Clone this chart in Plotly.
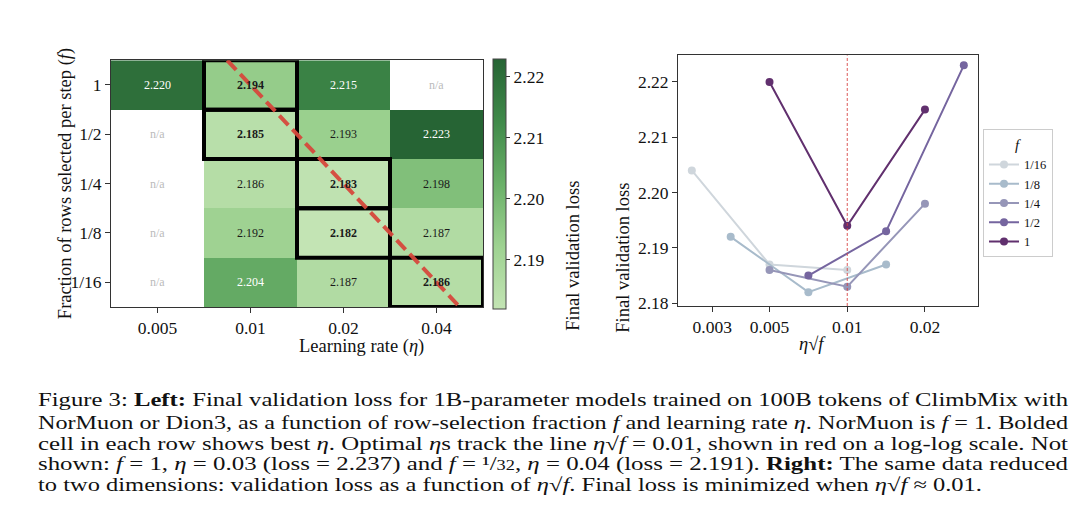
import math
import json
import plotly.graph_objects as go

# ---------------- data ----------------
lrs = [0.005, 0.01, 0.02, 0.04]
lr_labels = ["0.005", "0.01", "0.02", "0.04"]
fracs = [1, 1/2, 1/4, 1/8, 1/16]
frac_labels = ["1", "1/2", "1/4", "1/8", "1/16"]
loss = [
    [2.220, 2.194, 2.215, None],
    [None, 2.185, 2.193, 2.223],
    [None, 2.186, 2.183, 2.198],
    [None, 2.192, 2.182, 2.187],
    [None, 2.204, 2.187, 2.186],
]
target = 0.01  # eta * sqrt(f)
right_xticks = [0.003, 0.005, 0.01, 0.02]
right_xtick_labels = ["0.003", "0.005", "0.01", "0.02"]
right_yticks = [2.18, 2.19, 2.20, 2.21, 2.22]
cbar_ticks = [2.19, 2.20, 2.21, 2.22]
series_colors = {
    "1/16": "#cfd6dc",
    "1/8": "#a8bbcb",
    "1/4": "#9696b8",
    "1/2": "#75659f",
    "1": "#61306e",
}
caption_lines = [
    "Figure 3: <b>Left:</b> Final validation loss for 1B-parameter models trained on 100B tokens of ClimbMix with",
    "NorMuon or Dion3, as a function of row-selection fraction <i>f</i> and learning rate <i>η</i>. NorMuon is <i>f</i> = 1. Bolded",
    "cell in each row shows best <i>η</i>. Optimal <i>η</i>s track the line <i>η</i>√<i>f</i> = 0.01, shown in red on a log-log scale. Not",
    "shown: <i>f</i> = 1, <i>η</i> = 0.03 (loss = 2.237) and <i>f</i> = ¹/<span style='font-size:14px'>32</span>, <i>η</i> = 0.04 (loss = 2.191). <b>Right:</b> The same data reduced",
    "to two dimensions: validation loss as a function of <i>η</i>√<i>f</i>. Final loss is minimized when <i>η</i>√<i>f</i> ≈ 0.01.",
]

# ---------------- layout helpers ----------------
W, H = 1080, 528
FONT = "Liberation Serif, Times New Roman, serif"
def px(x):
    return x / W
def py(y):
    return 1 - y / H

vals = [v for row in loss for v in row if v is not None]
zmin, zmax = min(vals), max(vals)

greens = [
    [0.0, "rgb(195,228,180)"],
    [0.25, "rgb(158,210,145)"],
    [0.5, "rgb(106,176,104)"],
    [0.75, "rgb(64,138,74)"],
    [1.0, "rgb(38,100,52)"],
]

fig = go.Figure()

fig.add_trace(go.Heatmap(
    z=loss, x=list(range(len(lrs))), y=list(range(len(fracs))),
    zmin=zmin, zmax=zmax, colorscale=greens, hoverinfo="skip",
    xaxis="x", yaxis="y",
    colorbar=dict(
        x=px(485), xanchor="left", xpad=0, y=py(178), yanchor="middle", ypad=0,
        thickness=13, lenmode="pixels", len=250,
        outlinewidth=1, outlinecolor="#444",
        ticks="outside", ticklen=4, tickcolor="#333",
        tickvals=cbar_ticks, ticktext=[f"{t:.2f}" for t in cbar_ticks],
        tickfont=dict(family=FONT, size=17.5, color="#111"),
    ),
))

annotations = []
shapes = []

# cell texts and best-cell boxes
for r, row in enumerate(loss):
    present = [v for v in row if v is not None]
    best = min(present)
    for c, v in enumerate(row):
        if v is None:
            annotations.append(dict(x=c, y=r, xref="x", yref="y", text="n/a", showarrow=False,
                                    font=dict(family=FONT, size=12, color="#bbbbbb")))
            continue
        t = (v - zmin) / (zmax - zmin)
        col = "white" if t > 0.5 else "#1a1a1a"
        txt = f"{v:.3f}"
        if v == best:
            txt = f"<b>{txt}</b>"
            shapes.append(dict(type="rect", xref="x", yref="y", x0=c - 0.5, x1=c + 0.5,
                               y0=r - 0.5, y1=r + 0.5, line=dict(color="black", width=4),
                               layer="above"))
        annotations.append(dict(x=c, y=r, xref="x", yref="y", text=txt, showarrow=False,
                                font=dict(family=FONT, size=12, color=col)))

# red line eta*sqrt(f) = target in index space (log2 steps)
def col_index(eta):
    return math.log2(eta / lrs[0])
def lr_on_line(row_idx):
    f = 2 ** (-row_idx)
    return target / math.sqrt(f)
r0, r1 = -0.5, len(fracs) - 0.5
shapes.append(dict(type="line", xref="x", yref="y",
                   x0=col_index(lr_on_line(r0)), y0=r0,
                   x1=col_index(lr_on_line(r1)), y1=r1,
                   line=dict(color="rgba(214,72,60,0.95)", width=4, dash="13px,6px"),
                   layer="above"))

# right panel
for lab, f, row in reversed(list(zip(frac_labels, fracs, loss))):
    xs = [lr * math.sqrt(f) for lr, v in zip(lrs, row) if v is not None]
    ys = [v for v in row if v is not None]
    c = series_colors[lab]
    fig.add_trace(go.Scatter(
        x=xs, y=ys, mode="lines+markers", name=lab, xaxis="x2", yaxis="y2",
        line=dict(color=c, width=2), marker=dict(color=c, size=8),
        hoverinfo="skip",
    ))

shapes.append(dict(type="line", xref="x2", yref="y2 domain", x0=target, x1=target, y0=0, y1=1,
                   line=dict(color="rgba(214,60,60,0.85)", width=1, dash="3px,2px"), layer="above"))

# axis titles
TF = dict(family=FONT, size=18.5, color="#111")
annotations += [
    dict(x=px(289), y=py(343), xref="paper", yref="paper", text="Learning rate (<i>η</i>)",
         showarrow=False, font=TF),
    dict(x=px(45), y=py(178), xref="paper", yref="paper",
         text="Fraction of rows selected per step (<i>f</i>)", textangle=-90,
         showarrow=False, font=TF),
    dict(x=px(565), y=py(173), xref="paper", yref="paper", text="Final validation loss",
         textangle=-90, showarrow=False, font=TF),
    dict(x=px(820), y=py(341), xref="paper", yref="paper", text="<i>η</i>√<i>f</i>",
         showarrow=False, font=TF),
    dict(x=px(615), y=py(175), xref="paper", yref="paper", text="Final validation loss",
         textangle=-90, showarrow=False, font=TF),
]

# caption (each line justified to the reference's text block width)
cap_y = [397, 420, 441, 462, 483]
cap_len = [1030, 1030, 1030, 1030, 944]
cap_targets = {}
for line, yy, ln in zip(caption_lines, cap_y, cap_len):
    cap_targets[str(len(annotations))] = ln
    annotations.append(dict(x=px(28), y=py(yy), xref="paper", yref="paper", xanchor="left",
                            yanchor="middle", text=line, showarrow=False, align="left",
                            font=dict(family=FONT, size=19, color="#111")))

axis_common = dict(showline=True, mirror=True, linecolor="#333", linewidth=1,
                   ticks="outside", ticklen=5, tickcolor="#333", showgrid=False, zeroline=False,
                   tickfont=dict(family=FONT, size=17.5, color="#111"))

fig.update_layout(
    width=W, height=H, margin=dict(l=0, r=0, t=0, b=0),
    paper_bgcolor="white", plot_bgcolor="white",
    xaxis=dict(domain=[px(103), px(475)], range=[-0.5, len(lrs) - 0.5],
               tickvals=list(range(len(lrs))), ticktext=lr_labels, anchor="y", **axis_common),
    yaxis=dict(domain=[py(303), py(53)], range=[len(fracs) - 0.5, -0.5],
               tickvals=list(range(len(fracs))), ticktext=frac_labels, anchor="x", **axis_common),
    xaxis2=dict(domain=[px(670), px(970)], type="log",
                range=[math.log10(0.00221), math.log10(0.0321)],
                tickvals=right_xticks, ticktext=right_xtick_labels, anchor="y2", **axis_common),
    yaxis2=dict(domain=[py(302), py(48)], range=[2.1795, 2.2248],
                tickvals=right_yticks, ticktext=[f"{t:.2f}" for t in right_yticks],
                anchor="x2", **axis_common),
    legend=dict(x=px(975), y=py(123), xanchor="left", yanchor="top",
                bgcolor="white", bordercolor="#cccccc", borderwidth=1,
                font=dict(family=FONT, size=12.5, color="#111"),
                title=dict(text="<i>f</i>", side="top center", font=dict(family=FONT, size=15, color="#111")),
                itemwidth=30),
    showlegend=True,
    annotations=annotations, shapes=shapes,
)

post_js = """
(function(){
  var gd = document.getElementById('{plot_id}');
  var targets = __TARGETS__;
  function apply(){
    for (var k in targets){
      var t = gd.querySelector('g.annotation[data-index="' + k + '"] text.annotation-text');
      if (t){
        t.setAttribute('textLength', targets[k]);
        t.setAttribute('lengthAdjust', 'spacingAndGlyphs');
      }
    }
  }
  apply();
  if (gd && gd.on) { gd.on('plotly_afterplot', apply); }
  setTimeout(apply, 50);
  setTimeout(apply, 300);
})();
""".replace("__TARGETS__", json.dumps(cap_targets))

fig.write_html("out.html", post_script=post_js)
